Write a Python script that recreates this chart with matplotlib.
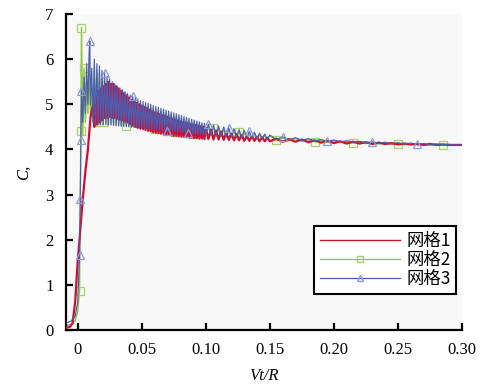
import numpy as np
import matplotlib
matplotlib.use("Agg")
import matplotlib.pyplot as plt
from matplotlib.lines import Line2D

# ── data: rise part (irregular sampling) ──
r_rise_t = [-0.009, -0.006, -0.004, -0.002, 0.0, 0.002, 0.004, 0.006, 0.008, 0.010]
r_rise_y = [0.05, 0.07, 0.15, 0.6, 1.5, 2.2, 2.9, 3.5, 4.0, 4.7]

g_rise_t = [-0.009, -0.005, -0.002, 0.0, 0.0015, 0.0025, 0.003, 0.004, 0.005,
            0.006, 0.007, 0.008, 0.009, 0.010, 0.011]
g_rise_y = [0.1, 0.12, 0.2, 0.4, 0.87, 4.4, 6.7, 4.3, 5.8, 4.6, 5.5, 4.8, 5.9, 4.7, 5.4]

b_rise_t = [-0.009, -0.005, -0.002, 0.0, 0.0015, 0.002, 0.0025, 0.003, 0.004, 0.005,
            0.006, 0.007, 0.008, 0.009, 0.0095, 0.010, 0.011]
b_rise_y = [0.15, 0.2, 0.3, 0.6, 1.67, 2.9, 4.2, 5.3, 4.6, 5.6, 4.8, 5.9, 5.0, 6.2,
            6.4, 5.0, 5.8]

# ── oscillating part, every 0.001 from 0.012 to 0.100 ──
osc_t = np.arange(0.012, 0.1001, 0.001)
r_osc = [5.0, 4.5, 5.2, 4.55, 5.3, 4.6, 5.35, 4.65, 5.4, 4.7,
         5.45, 4.7, 5.5, 4.72, 5.45, 4.7, 5.45, 4.7, 5.4, 4.68,
         5.35, 4.66, 5.3, 4.64, 5.25, 4.62, 5.2, 4.6, 5.15, 4.56,
         5.1, 4.53, 5.07, 4.5, 5.03, 4.48, 5.0, 4.46, 4.97, 4.45,
         4.94, 4.43, 4.91, 4.41, 4.88, 4.4, 4.85, 4.38, 4.82, 4.37,
         4.8, 4.36, 4.78, 4.35, 4.76, 4.34, 4.74, 4.33, 4.72, 4.32,
         4.7, 4.31, 4.68, 4.3, 4.66, 4.3, 4.64, 4.29, 4.62, 4.28,
         4.6, 4.28, 4.59, 4.27, 4.58, 4.26, 4.56, 4.26, 4.55, 4.25,
         4.54, 4.25, 4.52, 4.24, 4.51, 4.24, 4.5, 4.23, 4.48]
g_osc = [4.6, 5.8, 4.65, 5.75, 4.6, 5.7, 4.6, 5.65, 4.6, 5.55,
         4.6, 5.5, 4.58, 5.45, 4.58, 5.4, 4.56, 5.35, 4.55, 5.3,
         4.55, 5.27, 4.54, 5.24, 4.54, 5.2, 4.53, 5.17, 4.52, 5.14,
         4.51, 5.11, 4.5, 5.08, 4.5, 5.05, 4.49, 5.0, 4.48, 4.98,
         4.47, 4.96, 4.47, 4.94, 4.46, 4.92, 4.46, 4.9, 4.45, 4.88,
         4.44, 4.86, 4.43, 4.84, 4.43, 4.82, 4.42, 4.8, 4.41, 4.78,
         4.4, 4.76, 4.39, 4.74, 4.39, 4.72, 4.38, 4.7, 4.37, 4.68,
         4.36, 4.66, 4.36, 4.64, 4.35, 4.62, 4.35, 4.6, 4.34, 4.58,
         4.33, 4.57, 4.33, 4.55, 4.32, 4.53, 4.32, 4.52, 4.31]
b_osc = [4.6, 6.0, 4.55, 5.9, 4.55, 5.85, 4.55, 5.75, 4.55, 5.7,
         4.55, 5.62, 4.54, 5.56, 4.54, 5.5, 4.53, 5.45, 4.52, 5.4,
         4.52, 5.36, 4.51, 5.32, 4.51, 5.28, 4.5, 5.24, 4.5, 5.2,
         4.49, 5.18, 4.49, 5.15, 4.48, 5.12, 4.48, 5.08, 4.47, 5.06,
         4.46, 5.04, 4.46, 5.02, 4.45, 5.0, 4.45, 4.97, 4.44, 4.95,
         4.43, 4.93, 4.43, 4.91, 4.42, 4.89, 4.42, 4.87, 4.41, 4.85,
         4.4, 4.83, 4.4, 4.81, 4.39, 4.79, 4.38, 4.77, 4.38, 4.75,
         4.37, 4.73, 4.36, 4.71, 4.36, 4.69, 4.35, 4.67, 4.35, 4.65,
         4.34, 4.63, 4.34, 4.61, 4.33, 4.59, 4.33, 4.58, 4.32]

# ── every 0.002 from 0.102 to 0.150 ──
mid_t = np.arange(0.102, 0.1501, 0.002)
r_mid = [4.23, 4.44, 4.22, 4.42, 4.22, 4.4, 4.21, 4.38, 4.21, 4.36,
         4.2, 4.34, 4.2, 4.32, 4.19, 4.3, 4.19, 4.29, 4.19, 4.28,
         4.18, 4.27, 4.18, 4.26, 4.18]
g_mid = [4.5, 4.3, 4.48, 4.29, 4.46, 4.28, 4.44, 4.27, 4.42, 4.27,
         4.4, 4.26, 4.38, 4.25, 4.36, 4.25, 4.34, 4.24, 4.33, 4.23,
         4.32, 4.23, 4.31, 4.22, 4.3]
b_mid = [4.56, 4.31, 4.54, 4.3, 4.52, 4.29, 4.5, 4.28, 4.48, 4.28,
         4.46, 4.27, 4.44, 4.26, 4.42, 4.26, 4.4, 4.25, 4.38, 4.24,
         4.36, 4.24, 4.34, 4.23, 4.32]

# ── tail, every 0.005 from 0.155 to 0.300 ──
tail_t = np.arange(0.155, 0.3001, 0.005)
r_tail = [4.24, 4.17, 4.23, 4.17, 4.22, 4.16, 4.2, 4.15, 4.19, 4.14,
          4.18, 4.13, 4.17, 4.13, 4.16, 4.12, 4.15, 4.12, 4.14, 4.11,
          4.13, 4.11, 4.12, 4.1, 4.12, 4.1, 4.11, 4.1, 4.1, 4.1]
g_tail = [4.2, 4.26, 4.19, 4.24, 4.18, 4.22, 4.17, 4.2, 4.16, 4.19,
          4.15, 4.17, 4.14, 4.16, 4.13, 4.15, 4.12, 4.14, 4.11, 4.13,
          4.1, 4.12, 4.1, 4.11, 4.09, 4.11, 4.09, 4.1, 4.09, 4.09]
b_tail = [4.22, 4.28, 4.21, 4.26, 4.2, 4.24, 4.19, 4.22, 4.18, 4.21,
          4.17, 4.19, 4.16, 4.18, 4.15, 4.17, 4.14, 4.16, 4.13, 4.15,
          4.12, 4.14, 4.12, 4.13, 4.11, 4.12, 4.11, 4.11, 4.1, 4.1]

# where the open markers sit along each curve
g_mark_t = [0.0015, 0.0025, 0.003, 0.005, 0.016, 0.02, 0.038, 0.06, 0.076, 0.09,
            0.107, 0.127, 0.155, 0.185, 0.215, 0.25, 0.285]
b_mark_t = [0.0015, 0.002, 0.0025, 0.003, 0.0095, 0.021, 0.043, 0.07, 0.086, 0.103,
            0.118, 0.135, 0.16, 0.195, 0.23, 0.265]

labels = ["网格1", "网格2", "网格3"]
xticks = [0, 0.05, 0.10, 0.15, 0.20, 0.25, 0.30]
xticklabels = ["0", "0.05", "0.10", "0.15", "0.20", "0.25", "0.30"]

RED = "#cc1036"
GREEN = "#8cc43c"
BLUE = "#4b5db0"
GREEN_M = "#a6d16c"
BLUE_M = "#8c9ad6"


def series(rise_t, rise_y, osc, mid, tail):
    t = np.concatenate([rise_t, osc_t, mid_t, tail_t])
    y = np.concatenate([rise_y, osc, mid, tail])
    return t, y


rt, ry = series(r_rise_t, r_rise_y, r_osc, r_mid, r_tail)
gt, gy = series(g_rise_t, g_rise_y, g_osc, g_mid, g_tail)
bt, by = series(b_rise_t, b_rise_y, b_osc, b_mid, b_tail)

g_idx = [int(np.argmin(np.abs(gt - m))) for m in g_mark_t]
b_idx = [int(np.argmin(np.abs(bt - m))) for m in b_mark_t]

plt.rcParams["font.family"] = ["Liberation Serif", "Noto Sans CJK SC"]

fig = plt.figure(figsize=(4.87, 3.87), dpi=100)
ax = fig.add_axes([0.1355, 0.1473, 0.8132, 0.8165])
ax.set_facecolor("#f8f8f8")

ax.plot(gt, gy, color=GREEN, lw=1.0, zorder=2)
ax.plot(gt[g_idx], gy[g_idx], ls="none", marker="s", ms=5.5, mfc="none",
        mec=GREEN_M, mew=0.9, zorder=2)
ax.plot(rt, ry, color=RED, lw=1.6, zorder=3)
ax.plot(bt, by, color=BLUE, lw=0.85, zorder=4)
ax.plot(bt[b_idx], by[b_idx], ls="none", marker="^", ms=6, mfc="none",
        mec=BLUE_M, mew=0.9, zorder=4)

ax.set_xlim(-0.0091, 0.30)
ax.set_ylim(0, 7)
ax.set_xticks(xticks)
ax.set_xticklabels(xticklabels)
ax.set_yticks(range(0, 8))

for s in ["top", "right"]:
    ax.spines[s].set_visible(False)
for s in ["left", "bottom"]:
    ax.spines[s].set_linewidth(1.6)
    ax.spines[s].set_color("black")
ax.tick_params(direction="in", length=5, width=1.6, labelsize=12, pad=9)

ax.set_xlabel("Vt/R", style="italic", fontsize=12, labelpad=7)
ax.set_ylabel("C,", style="italic", fontsize=12, labelpad=10)

handles = [
    Line2D([], [], color=RED, lw=1.0),
    Line2D([], [], color=GREEN, lw=0.9, marker="s", ms=5, mfc="none", mec=GREEN_M),
    Line2D([], [], color=BLUE, lw=0.9, marker="^", ms=5, mfc="none", mec=BLUE_M),
]
leg = ax.legend(handles, labels, loc="lower right", bbox_to_anchor=(0.985, 0.115),
                handlelength=4.6, numpoints=1, fancybox=False, framealpha=1,
                edgecolor="black", fontsize=12.5, borderpad=0.3, labelspacing=0.08,
                handletextpad=0.4, borderaxespad=0)
leg.get_frame().set_linewidth(1.5)
for txt in leg.get_texts():
    txt.set_family(["Noto Sans CJK SC", "Liberation Serif"])

fig.savefig("out.png", dpi=100, facecolor="white")
